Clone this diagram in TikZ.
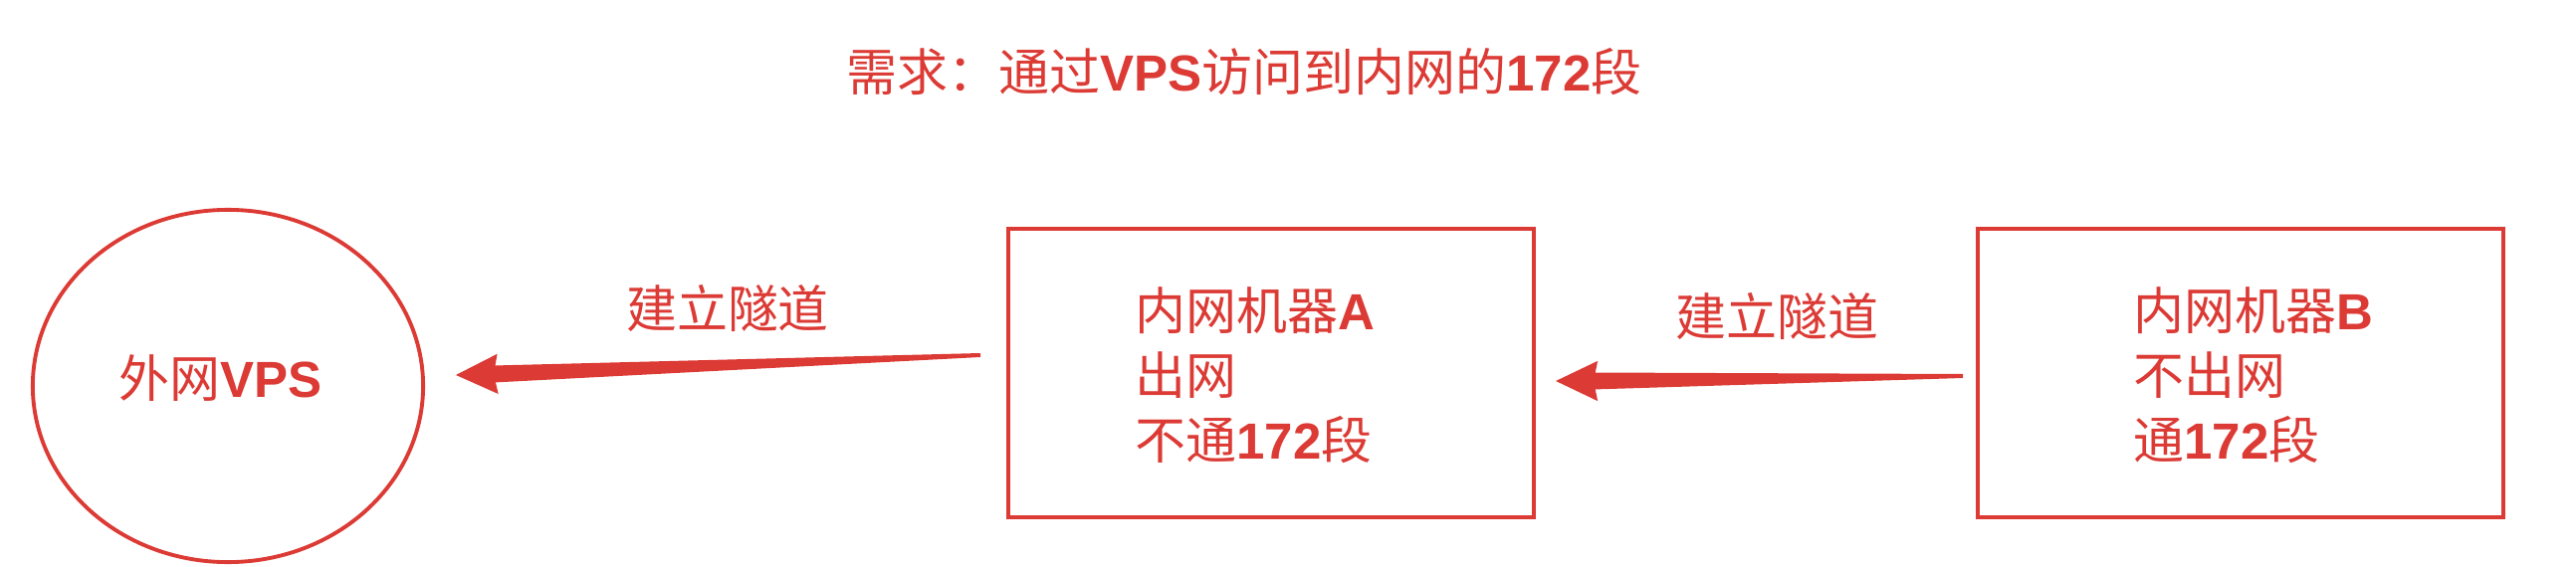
\documentclass[tikz,border=0pt]{standalone}
\usepackage{fontspec}
\usepackage{xcolor}
\usetikzlibrary{arrows.meta,shapes.geometric,calc}
\newfontfamily\cjk{Noto Sans CJK SC}
\newfontfamily\latb{Liberation Sans}
\newcommand{\bl}[1]{{\latb\bfseries #1}}
\definecolor{netred}{RGB}{220,58,52}

\begin{document}
\begin{tikzpicture}[x=0.01cm,y=-0.01cm,
  every node/.style={text=netred,font=\cjk\fontsize{14.5}{18.5}\selectfont},
  hostbox/.style={draw=netred,line width=1.1pt,minimum width=5.28cm,minimum height=2.89cm},
  tip/.style={-{Stealth[length=0.42cm,width=0.40cm,inset=0.04cm]},netred,line width=0.4pt}]
\useasboundingbox (0,0) rectangle (2588,570);
\node (title) at (1250,72) {需求：通过\bl{VPS}访问到内网的\bl{172}段};
\node[draw=netred,line width=1.1pt,ellipse,inner sep=0pt,minimum width=3.92cm,minimum height=3.54cm] (vps) at (229,388) {};
\node (vpstext) at (222,380) {外网\bl{VPS}};
\node[hostbox] (boxA) at (1277,375) {};
\node[hostbox] (boxB) at (2251,375) {};
\node[anchor=west,align=left] (textA) at (1128,377) {内网机器\bl{A}\\出网\\不通\bl{172}段};
\node[anchor=west,align=left] (textB) at (2131,377) {内网机器\bl{B}\\不出网\\通\bl{172}段};
\node (lab1) at (731,310) {建立隧道};
\node (lab2) at (1785,318) {建立隧道};
% tunnel A -> VPS
\coordinate (t1) at (985,357);
\coordinate (h1) at (496,376);
\coordinate (p1) at (458,377);
\fill[netred] ($(t1)!0.02cm!90:(h1)$) -- ($(h1)!0.085cm!-90:(t1)$) -- ($(h1)!0.085cm!90:(t1)$) -- ($(t1)!0.02cm!-90:(h1)$) -- cycle;
\draw[tip] (h1) -- (p1);
% tunnel B -> A
\coordinate (t2) at (1972,378);
\coordinate (h2) at (1600,383);
\coordinate (p2) at (1563,383);
\fill[netred] ($(t2)!0.02cm!90:(h2)$) -- ($(h2)!0.085cm!-90:(t2)$) -- ($(h2)!0.085cm!90:(t2)$) -- ($(t2)!0.02cm!-90:(h2)$) -- cycle;
\draw[tip] (h2) -- (p2);
\end{tikzpicture}
\end{document}
